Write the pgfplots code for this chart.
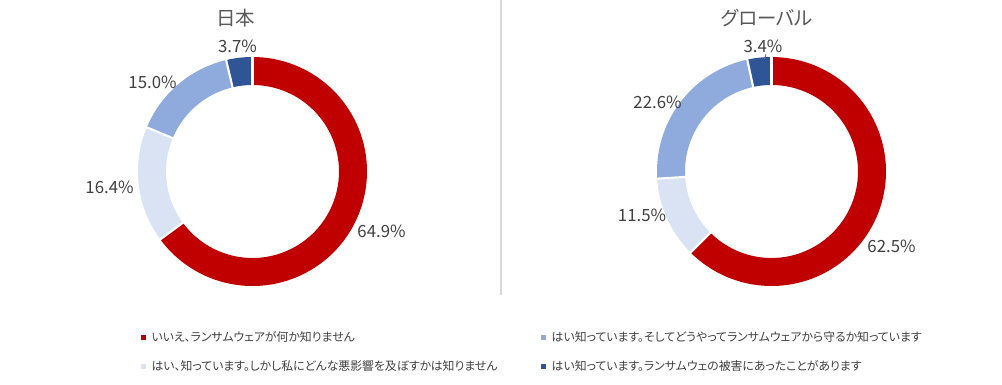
\documentclass[border=0pt]{standalone}
\usepackage{pgfplots}
\pgfplotsset{compat=1.18}
\usepackage{fontspec}
\setmainfont{Noto Sans CJK JP}
\newfontfamily\jpp{Noto Sans CJK JP}[RawFeature=+palt]
\definecolor{cRed}{HTML}{C00000}
\definecolor{cVL}{HTML}{DAE3F3}
\definecolor{cMid}{HTML}{8FAADC}
\definecolor{cDark}{HTML}{2F5597}
\definecolor{cLab}{HTML}{404040}
\definecolor{cTit}{HTML}{595959}
\definecolor{cSep}{HTML}{D9D9D9}
% donut segment: cx, cy, start%, end%, colour
\newcommand\seg[5]{\addplot[draw=#5, line width=21pt, domain=#3:#4, samples=90]
  ({#1+100.5*sin(3.6*x)}, {#2-100.5*cos(3.6*x)});}
\newcommand\cut[3]{\addplot[white, line width=1.6pt, domain=84:117, samples=2]
  ({#1+x*sin(3.6*#3)}, {#2-x*cos(3.6*#3)});}
\begin{document}
\begin{tikzpicture}
\begin{axis}[name=ax,
  x=0.75pt, y=0.75pt, xmin=0, xmax=1002, ymin=0, ymax=385, y dir=reverse,
  scale only axis, hide axis, clip=false,
  legend columns=2,
  legend cell align=left,
  legend style={at={(axis cs:140.5,352.3)}, anchor=west, draw=none, fill=none,
    font=\fontsize{8.9}{11}\selectfont\jpp\color{cLab},
    row sep=8.8pt, inner sep=0pt,
    /tikz/every even column/.append style={column sep=27pt},
    /tikz/every odd column/.append style={column sep=2.5pt}},
  legend image code/.code={\fill[#1, draw=none] (0pt,-1.8pt) rectangle (3.6pt,1.8pt);},
]
% legend entries (row-wise: red, mid, very light, dark)
\addlegendimage{fill=cRed}
\addlegendentry{\makebox[263pt][l]{いいえ、ランサムウェアが何か知りません}}
\addlegendimage{fill=cMid}
\addlegendentry{はい知っています。そしてどうやってランサムウェアから守るか知っています}
\addlegendimage{fill=cVL}
\addlegendentry{\makebox[263pt][l]{はい、知っています。しかし私にどんな悪影響を及ぼすかは知りません}}
\addlegendimage{fill=cDark}
\addlegendentry{はい知っています。ランサムウェの被害にあったことがあります}

% Japan: 64.9, 16.4, 15.0, 3.7
\seg{252.5}{171.5}{0}{64.9}{cRed}
\seg{252.5}{171.5}{64.9}{81.3}{cVL}
\seg{252.5}{171.5}{81.3}{96.3}{cMid}
\seg{252.5}{171.5}{96.3}{100}{cDark}
\cut{252.5}{171.5}{0}
\cut{252.5}{171.5}{64.9}
\cut{252.5}{171.5}{81.3}
\cut{252.5}{171.5}{96.3}
% Global: 62.5, 11.5, 22.6, 3.4
\seg{771.5}{171.5}{0}{62.5}{cRed}
\seg{771.5}{171.5}{62.5}{74.0}{cVL}
\seg{771.5}{171.5}{74.0}{96.6}{cMid}
\seg{771.5}{171.5}{96.6}{100}{cDark}
\cut{771.5}{171.5}{0}
\cut{771.5}{171.5}{62.5}
\cut{771.5}{171.5}{74.0}
\cut{771.5}{171.5}{96.6}
% leader line for 3.4%
\addplot[color=cLab!70, line width=0.6pt] coordinates {(766,54) (764.5,59)};
% divider
\addplot[color=cSep, line width=0.9pt] coordinates {(501,0) (501,295)};

% titles
\node[font=\fontsize{14.6}{16}\selectfont\jpp, text=cTit] at (axis cs:235.5,18) {日本};
\node[font=\fontsize{14.6}{16}\selectfont\jpp, text=cTit] at (axis cs:767,18) {グローバル};
% data labels
\begin{scope}[every node/.style={font=\fontsize{12.6}{14}\selectfont, text=cLab}]
\node at (axis cs:237.5,46) {3.7\%};
\node at (axis cs:152.5,82.5) {15.0\%};
\node at (axis cs:109.5,187.5) {16.4\%};
\node at (axis cs:381.5,231) {64.9\%};
\node at (axis cs:763,46) {3.4\%};
\node at (axis cs:657.5,102.5) {22.6\%};
\node at (axis cs:642,215.5) {11.5\%};
\node at (axis cs:891.5,246) {62.5\%};
\end{scope}
\end{axis}
\pgfresetboundingbox
\path (ax.south west) rectangle (ax.north east);
\end{tikzpicture}
\end{document}
